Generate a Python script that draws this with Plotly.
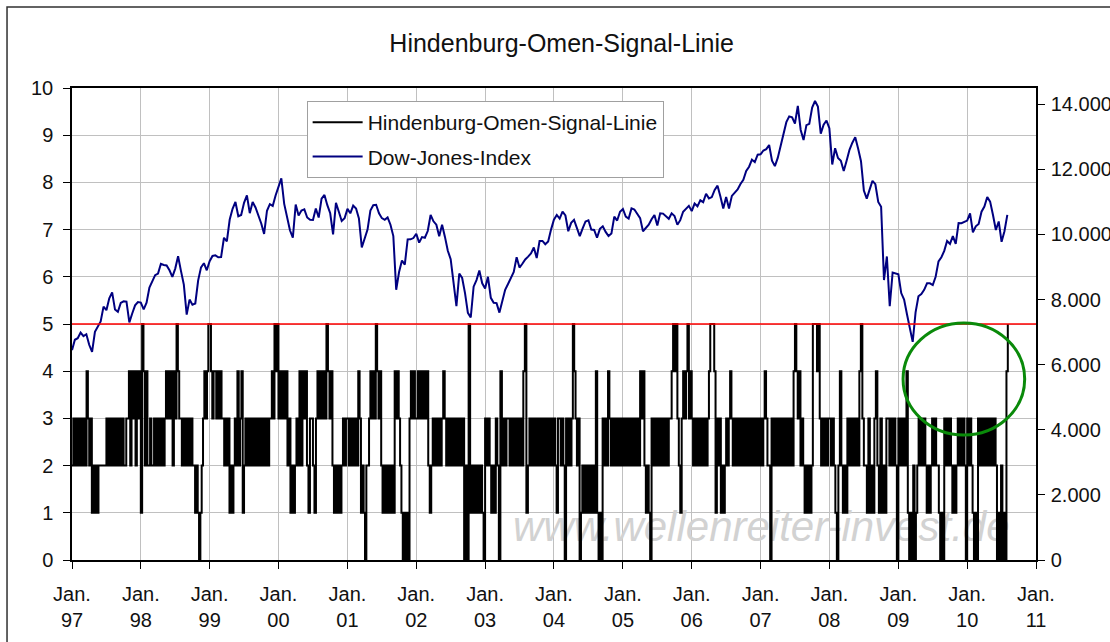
import plotly.graph_objects as go
import pandas as pd

# ---------------- data ----------------
TITLE = "Hindenburg-Omen-Signal-Linie"
SIGNAL_NAME = "Hindenburg-Omen-Signal-Linie"
DJ_NAME = "Dow-Jones-Index"
WATERMARK = "www.wellenreiter-invest.de"

TICK_YEARS = list(range(1997, 2012))
TICK_LABELS = ["Jan.<br>97", "Jan.<br>98", "Jan.<br>99", "Jan.<br>00", "Jan.<br>01",
               "Jan.<br>02", "Jan.<br>03", "Jan.<br>04", "Jan.<br>05", "Jan.<br>06",
               "Jan.<br>07", "Jan.<br>08", "Jan.<br>09", "Jan.<br>10", "Jan.<br>11"]

LEFT_TICKS = list(range(0, 11))
RIGHT_TICKS = [0, 2000, 4000, 6000, 8000, 10000, 12000, 14000]
RIGHT_LABELS = ["0", "2.000", "4.000", "6.000", "8.000", "10.000", "12.000", "14.000"]

# Hindenburg-Omen signal, roughly weekly values, one string per calendar year (1997 ... 2010)
SIGNAL_YEARS = list(range(1997, 2011))
SIGNAL_STRINGS = [
    "2323" "2" "323232" "4" "323" "12121" "22222" "232" "323232323232" "23" "3424342434",
    "15" "4242" "2322" "32323" "2323" "43434243543" "3232323232" "2121012" "34345",
    "5434" "434343" "32323" "1212" "3242341232" "32323232323232" "323" "343545",
    "3434342" "3121232" "42434213" "3213" "4343435434" "2121212" "323",
    "3232323243" "1210" "22" "3434354342" "121212121" "4343" "2101010" "34343",
    "34343434" "212" "32323234323232323" "2323" "020" "512121" "21210",
    "3232121320" "4" "2323" "3232323232" "4512" "3232323232323232",
    "3213" "32320" "3232354" "3230" "12121212121" "4" "1010" "32324" "3232323232",
    "323232323232" "434" "21210" "3232323232323" "34545" "321" "3434534",
    "3232323232323" "45554" "1" "3231212323" "4" "3232323232323232323232",
    "323432" "20" "3232323232323" "232" "45" "4342" "3212" "1212" "55545" "3232" "323",
    "323" "2102" "4" "2121" "32323232" "45" "32" "2131213" "4" "2131213" "3232" "320",
    "3232324" "1010201" "2323232" "1212" "3232" "21010" "323232" "1212" "3232320",
    "3232" "1010" "3232323232323" "20102010" "45",
]
SIGNAL_LAST_SPAN = 0.61   # data for 2010 ends in August

# Dow Jones Index, two readings per month (start and middle of each month), from Jan 1997
DJ_START_YEAR = 1997
DJ_PER_YEAR = 24
DJ_VALUES = [
    6448, 6765, 6813, 6988, 6878, 6935, 6611, 6391, 7009, 7194, 7331, 7782, 7673, 8038, 8223, 7694, 7622, 7895, 7945, 7938, 7300, 7572, 7823, 7922,
    7908, 7700, 7907, 8370, 8546, 8750, 8800, 9100, 9063, 9050, 8900, 8700, 8952, 9330, 8883, 8460, 7539, 8000, 7843, 7880, 8592, 8990, 9117, 8900,
    9181, 9340, 9359, 9300, 9307, 9900, 9786, 10460, 10789, 11000, 10560, 10600, 10971, 11200, 10655, 11000, 10829, 10600, 10337, 10019, 10729, 10930, 10878, 11200,
    11497, 11723, 10941, 10500, 10128, 9900, 10922, 10580, 10734, 10770, 10522, 10450, 10448, 10800, 10522, 11100, 11215, 10900, 10651, 10000, 10971, 10700, 10415, 10500,
    10787, 10650, 10887, 10800, 10495, 9600, 9879, 10150, 10735, 10900, 10912, 10650, 10502, 10450, 10523, 10300, 9950, 8300, 8848, 9200, 9075, 9850, 9852, 9890,
    10021, 9750, 9920, 9900, 10106, 10600, 10404, 10300, 9946, 10300, 9925, 9500, 9243, 8500, 7800, 8800, 8664, 8200, 7592, 7450, 8397, 8600, 8896, 8500,
    8342, 8700, 8054, 7900, 7891, 7600, 7992, 8300, 8480, 8650, 8850, 9300, 8985, 9100, 9234, 9320, 9416, 9600, 9275, 9800, 9801, 9700, 9782, 10150,
    10454, 10600, 10488, 10700, 10584, 10100, 10358, 10450, 10226, 9950, 10188, 10400, 10435, 10150, 10140, 9900, 10174, 10250, 10080, 9950, 10027, 10550, 10428, 10700,
    10783, 10550, 10490, 10800, 10766, 10650, 10504, 10100, 10193, 10300, 10467, 10600, 10275, 10650, 10641, 10550, 10482, 10650, 10569, 10300, 10440, 10700, 10806, 10880,
    10718, 10950, 10865, 11050, 10993, 11250, 11109, 11150, 11367, 11500, 11168, 10800, 11150, 10800, 11186, 11300, 11381, 11550, 11679, 11950, 12081, 12300, 12222, 12450,
    12463, 12580, 12622, 12750, 12269, 12100, 12354, 12720, 13063, 13450, 13628, 13600, 13409, 13950, 13212, 12900, 13358, 13400, 13896, 14100, 13930, 13100, 13372, 13500,
    13265, 12150, 12650, 12350, 12266, 11950, 12263, 12600, 12820, 12990, 12638, 12250, 11350, 11100, 11378, 11650, 11544, 11000, 10851, 8600, 9325, 7800, 8829, 8800,
    8776, 8200, 8001, 7550, 7063, 6700, 7609, 8100, 8168, 8300, 8500, 8500, 8447, 8700, 9172, 9300, 9496, 9800, 9712, 9950, 9713, 10350, 10345, 10400,
    10428, 10650, 10067, 10250, 10325, 10700, 10857, 11150, 11009, 10600, 10137, 10400, 9774, 10100, 10600,
]

SIGNAL_THRESHOLD = 5
CIRCLE_X = ("2009-01-26", "2010-11-02")
CIRCLE_Y = (2.65, 5.02)
WATERMARK_X = "2007-01-05"
WATERMARK_Y = 0.63


# ---------------- helpers ----------------
def yearfrac_to_date(yf):
    y = int(yf)
    frac = yf - y
    start = pd.Timestamp(y, 1, 1)
    end = pd.Timestamp(y + 1, 1, 1)
    return start + (end - start) * frac


sig_x, sig_y = [], []
for i, (yr, s) in enumerate(zip(SIGNAL_YEARS, SIGNAL_STRINGS)):
    span = SIGNAL_LAST_SPAN if i == len(SIGNAL_YEARS) - 1 else 1.0
    n = len(s)
    for k, c in enumerate(s):
        sig_x.append(yearfrac_to_date(yr + span * k / n))
        sig_y.append(int(c))

dj_x = [yearfrac_to_date(DJ_START_YEAR + k / DJ_PER_YEAR) for k in range(len(DJ_VALUES))]

FONT = "Liberation Sans, Arial, sans-serif"

fig = go.Figure()

fig.add_trace(go.Scatter(
    x=[WATERMARK_X], y=[WATERMARK_Y], mode="text", text=[WATERMARK],
    textfont=dict(family=FONT, size=42, color="#d2d2d2", style="italic"),
    showlegend=False, hoverinfo="skip"))

fig.add_trace(go.Scatter(
    x=sig_x, y=sig_y, mode="lines", name=SIGNAL_NAME, legendgroup="a",
    line=dict(color="black", width=2, shape="hv")))

fig.add_trace(go.Scatter(
    x=dj_x, y=DJ_VALUES, mode="lines", name=DJ_NAME, legendgroup="b", yaxis="y2",
    line=dict(color="#000080", width=2)))

fig.add_shape(type="line", xref="x domain", yref="y", x0=0, x1=1,
              y0=SIGNAL_THRESHOLD, y1=SIGNAL_THRESHOLD,
              line=dict(color="#ff0000", width=1.5))

fig.add_shape(type="circle", xref="x", yref="y",
              x0=CIRCLE_X[0], x1=CIRCLE_X[1], y0=CIRCLE_Y[0], y1=CIRCLE_Y[1],
              line=dict(color="#0a8a0a", width=3))

# outer chart frame
fig.add_shape(type="rect", xref="paper", yref="paper",
              x0=-0.0674, x1=1.2, y0=-0.4, y1=1.1716,
              line=dict(color="#303030", width=1.5), layer="below")

axis_font = dict(family=FONT, size=20, color="#111111")

fig.update_layout(
    width=1110, height=642,
    margin=dict(l=72, r=74, t=88, b=82, autoexpand=False),
    paper_bgcolor="white", plot_bgcolor="white",
    title=dict(text=TITLE, x=0.506, xanchor="center", y=0.933, yanchor="middle",
               xref="container", yref="container",
               font=dict(family=FONT, size=25, color="#111111")),
    font=dict(family=FONT, color="#111111"),
    xaxis=dict(type="date", range=["1997-01-01", "2011-01-01"],
               tickvals=[pd.Timestamp(y, 1, 1) for y in TICK_YEARS], ticktext=TICK_LABELS,
               showgrid=True, gridcolor="#c0c0c0", gridwidth=1,
               ticks="outside", ticklen=7, tickcolor="black",
               showline=True, linecolor="black", linewidth=1.5, mirror=True,
               tickfont=axis_font, zeroline=False, ticklabelstandoff=8, automargin=False),
    yaxis=dict(range=[0, 10], tickvals=LEFT_TICKS,
               showgrid=True, gridcolor="#c0c0c0", gridwidth=1,
               ticks="outside", ticklen=7, tickcolor="black",
               showline=True, linecolor="black", linewidth=1.5, mirror=True,
               tickfont=axis_font, zeroline=False, ticklabelstandoff=6, automargin=False),
    yaxis2=dict(range=[0, 14500], overlaying="y", side="right",
                tickvals=RIGHT_TICKS, ticktext=RIGHT_LABELS,
                showgrid=False, ticks="outside", ticklen=7, tickcolor="black",
                showline=True, linecolor="black", linewidth=1.5,
                tickfont=axis_font, zeroline=False, ticklabelstandoff=2, automargin=False),
    legend=dict(x=0.2434, y=0.9725, xanchor="left", yanchor="top",
                bgcolor="white", bordercolor="#a0a0a0", borderwidth=1,
                font=dict(family=FONT, size=21, color="#111111"),
                itemwidth=50, tracegroupgap=4),
    showlegend=True,
)

POST = (
    "document.documentElement.style.margin='0';"
    "document.body.style.margin='0';document.body.style.padding='0';"
    "document.body.style.overflow='hidden';"
    "var gd=document.getElementById('{plot_id}');"
    "Plotly.relayout(gd,{width:1110,height:642});"
)

fig.write_html("out.html", post_script=POST, config={"displayModeBar": False})
